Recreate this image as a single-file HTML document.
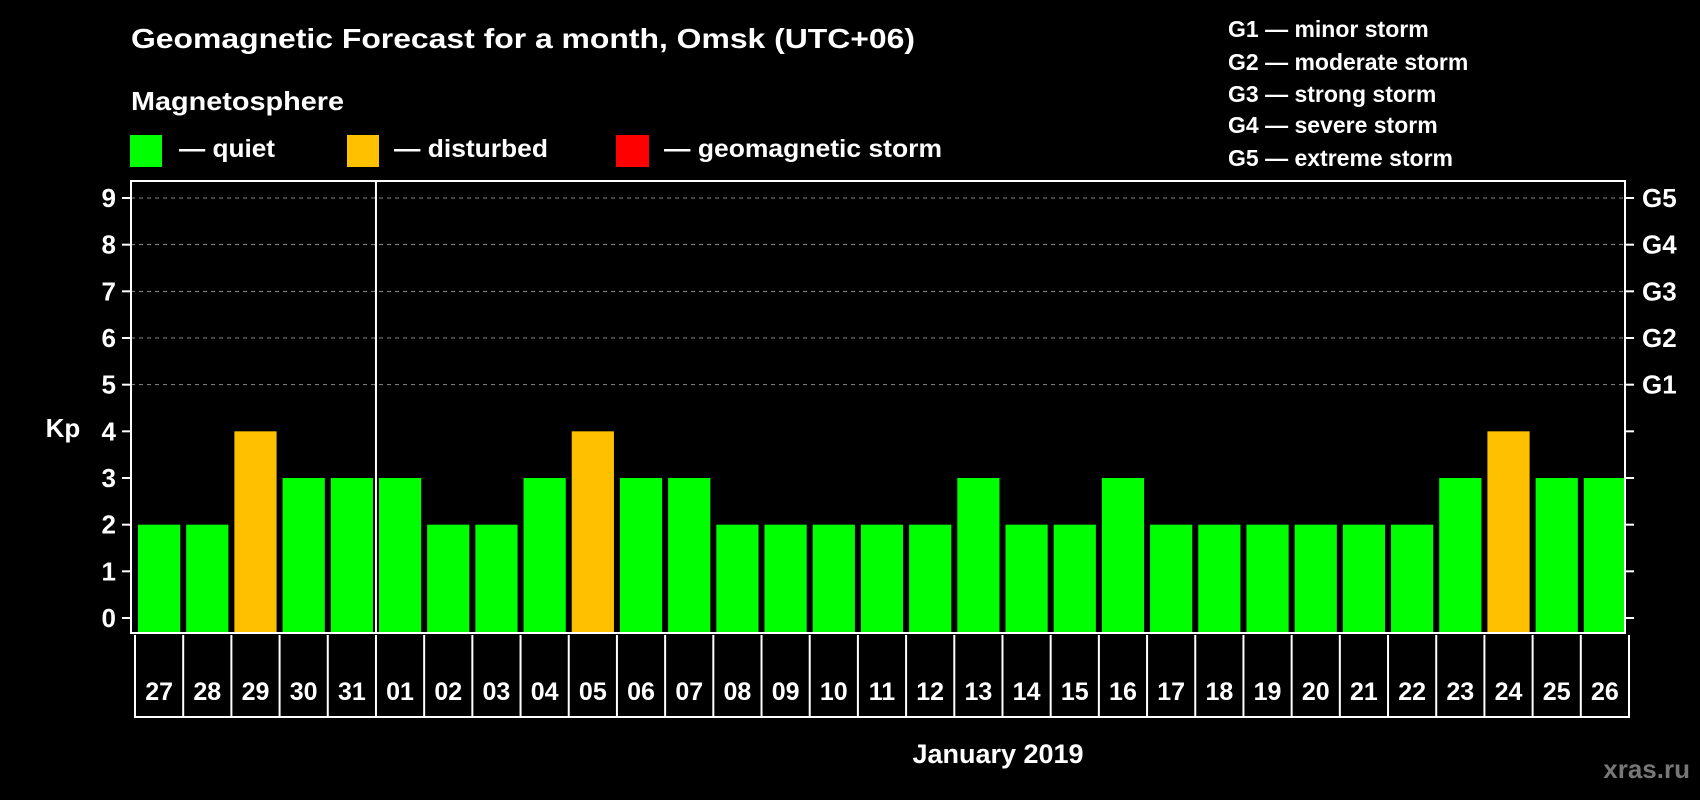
<!DOCTYPE html>
<html><head><meta charset="utf-8"><style>
html,body{margin:0;padding:0;background:#000;}
svg{display:block;font-family:"Liberation Sans",Arial,sans-serif;font-weight:bold;}
</style></head><body>
<svg id="chart" width="1700" height="800" viewBox="0 0 1700 800">
<rect width="1700" height="800" fill="#000"/>
<text x="131" y="48" fill="#fff" font-size="28" textLength="784" lengthAdjust="spacingAndGlyphs">Geomagnetic Forecast for a month, Omsk (UTC+06)</text>
<text x="131" y="110" fill="#fff" font-size="26" textLength="213" lengthAdjust="spacingAndGlyphs">Magnetosphere</text>
<g>
<rect x="130" y="135" width="32" height="32" fill="#00ff00"/>
<text x="179" y="157" fill="#fff" font-size="25" textLength="96" lengthAdjust="spacingAndGlyphs">— quiet</text></g>
<g>
<rect x="347" y="135" width="32" height="32" fill="#ffc000"/>
<text x="394" y="157" fill="#fff" font-size="25" textLength="154" lengthAdjust="spacingAndGlyphs">— disturbed</text></g>
<g>
<rect x="616" y="135" width="33" height="32" fill="#ff0000"/>
<text x="664" y="157" fill="#fff" font-size="25" textLength="278" lengthAdjust="spacingAndGlyphs">— geomagnetic storm</text></g>
<g fill="#fff" font-size="23">
<text x="1228" y="37">G1 — minor storm</text>
<text x="1228" y="70">G2 — moderate storm</text>
<text x="1228" y="102">G3 — strong storm</text>
<text x="1228" y="133">G4 — severe storm</text>
<text x="1228" y="166">G5 — extreme storm</text>
</g>
<g id="grid"></g>
<g id="bars"></g>
<g id="axes"></g>
<text x="63" y="437" fill="#fff" font-size="26" text-anchor="middle">Kp</text>
<text x="998" y="763" fill="#fff" font-size="27" text-anchor="middle">January 2019</text>
<text x="1690" y="778" fill="#777" font-size="26" text-anchor="end">xras.ru</text>
</svg>
<script>
const days = ["27","28","29","30","31","01","02","03","04","05","06","07","08","09","10","11","12","13","14","15","16","17","18","19","20","21","22","23","24","25","26"];
const kpValues = [2,2,4,3,3,3,2,2,3,4,3,3,2,2,2,2,2,3,2,2,3,2,2,2,2,2,2,3,4,3,3];
const yTicks = [0,1,2,3,4,5,6,7,8,9];
const gLabels = ["","","","","","G1","G2","G3","G4","G5"];
const monthStartIndex = 5;

const NS = "http://www.w3.org/2000/svg";
const L = 131, R = 1625, T = 181, B = 633;
const slot = (R - L) / days.length;
function y(v){ return 618 - v * (420 / 9); }
function x(i){ return L + 7 + i * slot; }
function mk(tag, attrs, parent){ const e = document.createElementNS(NS, tag); for (const k in attrs) e.setAttribute(k, attrs[k]); parent.appendChild(e); return e; }
const grid = document.getElementById('grid'), bars = document.getElementById('bars'), axes = document.getElementById('axes');

yTicks.forEach((t, i) => {
  const yy = y(t);
  if (t >= 5) {
    const gl = mk('line', {x1:L, x2:R, y1:yy, y2:yy, stroke:'#888', 'stroke-width':1, 'stroke-dasharray':'4,4'}, grid);
    
    
  }
  mk('line', {x1:L-9, x2:L, y1:yy, y2:yy, stroke:'#fff', 'stroke-width':2}, axes);
  mk('line', {x1:R, x2:R+9, y1:yy, y2:yy, stroke:'#fff', 'stroke-width':2}, axes);
  const lt = mk('text', {x:116, y:yy+9, fill:'#fff', 'font-size':26, 'text-anchor':'end'}, axes);
  lt.textContent = t;
  
  
  if (gLabels[i]) {
    const gt = mk('text', {x:1642, y:yy+9, fill:'#fff', 'font-size':26}, axes);
    gt.textContent = gLabels[i];
    
    
  }
});

kpValues.forEach((v, i) => {
  const top = y(v);
  const b = mk('rect', {x:x(i), y:top, width:slot-6, height:B-top, fill: v >= 5 ? '#ff0000' : (v >= 4 ? '#ffc000' : '#00ff00')}, bars);
  
  
  const dl = mk('text', {x:x(i) + (slot-6)/2, y:700, fill:'#fff', 'font-size':25, 'text-anchor':'middle'}, axes);
  dl.textContent = days[i];
  
  
  mk('line', {x1:x(i)-3, x2:x(i)-3, y1:B+2, y2:717, stroke:'#fff', 'stroke-width':2}, axes);
});
mk('line', {x1:x(days.length)-3, x2:x(days.length)-3, y1:B+2, y2:717, stroke:'#fff', 'stroke-width':2}, axes);
mk('line', {x1:x(0)-4, x2:x(days.length)-2, y1:717, y2:717, stroke:'#fff', 'stroke-width':2}, axes);
const fr = mk('rect', {x:L, y:T, width:R-L, height:B-T, fill:'none', stroke:'#fff', 'stroke-width':2}, axes);


const dv = mk('line', {x1:x(monthStartIndex)-3, x2:x(monthStartIndex)-3, y1:T, y2:B, stroke:'#fff', 'stroke-width':2}, axes);


</script>
</body></html>
